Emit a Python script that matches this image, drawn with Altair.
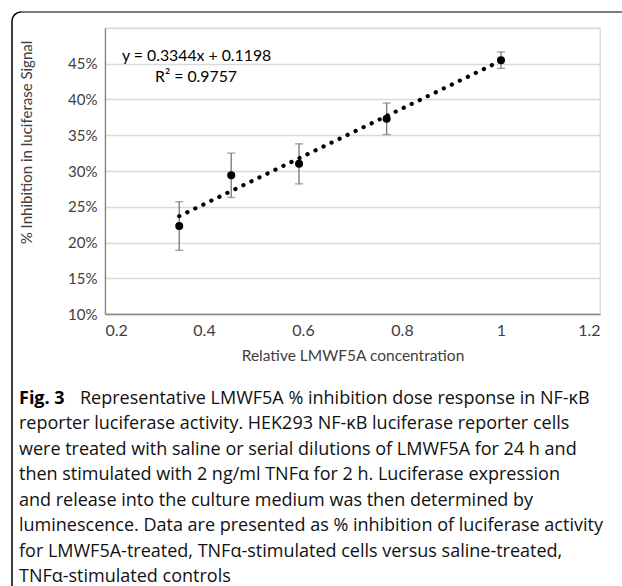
import altair as alt
import pandas as pd

# ---- data ----
conc = [0.35, 0.455, 0.592, 0.769, 1.0]
inhib = [0.223, 0.294, 0.310, 0.373, 0.455]
err = [0.034, 0.031, 0.028, 0.022, 0.0115]
slope = 0.3344
intercept = 0.1198
eq_lines = ["y = 0.3344x + 0.1198", "R² = 0.9757"]
x_ticks = [0.2, 0.4, 0.6, 0.8, 1.0, 1.2]
y_ticks = [0.10, 0.15, 0.20, 0.25, 0.30, 0.35, 0.40, 0.45, 0.50]
caption_bold = "Fig. 3"
caption_lines = [
    "Representative LMWF5A % inhibition dose response in NF-κB",
    "reporter luciferase activity. HEK293 NF-κB luciferase reporter cells",
    "were treated with saline or serial dilutions of LMWF5A for 24 h and",
    "then stimulated with 2 ng/ml TNFα for 2 h. Luciferase expression",
    "and release into the culture medium was then determined by",
    "luminescence. Data are presented as % inhibition of luciferase activity",
    "for LMWF5A-treated, TNFα-stimulated cells versus saline-treated,",
    "TNFα-stimulated controls",
]

df = pd.DataFrame({"x": conc, "y": inhib,
                   "lo": [v - e for v, e in zip(inhib, err)],
                   "hi": [v + e for v, e in zip(inhib, err)]})
trend = pd.DataFrame({"x": [min(conc), max(conc)]})
trend["y"] = slope * trend["x"] + intercept

W, H = 495, 286
LABEL_FONT = "Lato"
CAP_FONT = "Open Sans"
CAP_SIZE = 18

xs = alt.Scale(domain=[0.2, 1.2], nice=False)
ys = alt.Scale(domain=[0.1, 0.5], nice=False)
X_TITLE = "Relative LMWF5A concentration"
Y_TITLE = "% Inhibition in luciferase Signal"

x_axis = alt.Axis(
    values=x_ticks, format="~g", title=X_TITLE,
    grid=False, ticks=False, domainColor="#898989", domainWidth=1.3,
    labelFont=LABEL_FONT, labelFontSize=16, labelColor="#404040", labelPadding=8,
    titleFont=LABEL_FONT, titleFontSize=15.5, titleFontWeight="normal",
    titleColor="#404040", titlePadding=10)
y_axis = alt.Axis(
    values=y_ticks, format=".0%", title=Y_TITLE,
    labelExpr="datum.value > 0.49 ? '' : datum.label",
    grid=True, gridColor="#d9d9d9", gridWidth=1.3, ticks=False,
    domainColor="#898989", domainWidth=1.3,
    labelFont=LABEL_FONT, labelFontSize=15, labelColor="#404040", labelPadding=8,
    titleFont=LABEL_FONT, titleFontSize=15, titleFontWeight="normal",
    titleColor="#404040", titleX=-71, titleY=114)

X = alt.X("x:Q", scale=xs, axis=x_axis, title=X_TITLE)


def Yenc(field):
    return alt.Y(field, scale=ys, axis=y_axis, title=Y_TITLE)


bars = alt.Chart(df).mark_rule(color="#7f7f7f", strokeWidth=1.4).encode(
    x=X, y=Yenc("lo:Q"), y2="hi:Q")
caps_lo = alt.Chart(df).mark_tick(color="#7f7f7f", thickness=1.4, size=8, orient="horizontal").encode(
    x=X, y=Yenc("lo:Q"))
caps_hi = alt.Chart(df).mark_tick(color="#7f7f7f", thickness=1.4, size=8, orient="horizontal").encode(
    x=X, y=Yenc("hi:Q"))
line = alt.Chart(trend).mark_line(color="black", strokeWidth=4.2, strokeDash=[0.1, 8.8],
                                  strokeCap="round").encode(x=X, y=Yenc("y:Q"))
pts = alt.Chart(df).mark_circle(color="black", opacity=1, size=64).encode(x=X, y=Yenc("y:Q"))

eq = alt.Chart(pd.DataFrame({"t": [eq_lines[0]]})).mark_text(
    font=LABEL_FONT, fontSize=15.8, color="#000000", align="left", baseline="middle").encode(
    text="t:N", x=alt.value(17), y=alt.value(28))
r2 = alt.Chart(pd.DataFrame({"t": [eq_lines[1]]})).mark_text(
    font=LABEL_FONT, fontSize=15.8, color="#000000", align="left", baseline="middle").encode(
    text="t:N", x=alt.value(50), y=alt.value(49))

frame = alt.Chart(pd.DataFrame({"a": [0]})).mark_rect(
    fill=None, stroke="black", strokeWidth=1.5, cornerRadius=9).encode(
    x=alt.value(-93), x2=alt.value(700), y=alt.value(-16), y2=alt.value(700))
frame_top = alt.Chart(pd.DataFrame({"a": [0]})).mark_rule(color="#7a7a7a", strokeWidth=2).encode(
    x=alt.value(-84), x2=alt.value(700), y=alt.value(-16))

cap_bold = alt.Chart(pd.DataFrame({"t": [caption_bold]})).mark_text(
    font=CAP_FONT, fontSize=CAP_SIZE, fontWeight="bold", color="black", align="left",
    baseline="alphabetic").encode(text="t:N", x=alt.value(-86), y=alt.value(376))
cap_first = alt.Chart(pd.DataFrame({"t": [caption_lines[0]]})).mark_text(
    font=CAP_FONT, fontSize=CAP_SIZE, color="#111111", align="left", baseline="alphabetic").encode(
    text="t:N", x=alt.value(-25), y=alt.value(376))
cap_rest = alt.Chart(pd.DataFrame({"t": ["\n".join(caption_lines[1:])]})).mark_text(
    font=CAP_FONT, fontSize=CAP_SIZE, color="#111111", align="left", baseline="alphabetic",
    lineBreak="\n", lineHeight=25.5).encode(
    text="t:N", x=alt.value(-86), y=alt.value(401))

chart = alt.layer(frame, frame_top, bars, caps_lo, caps_hi, line, pts, eq, r2,
                  cap_bold, cap_first, cap_rest).properties(
    width=W, height=H,
    autosize=alt.AutoSizeParams(type="none"),
    padding={"left": 105, "top": 28, "right": 22, "bottom": 272},
    background="white",
).configure_view(stroke="#d9d9d9", strokeWidth=1.3)

chart.save("out.html", embed_options={"renderer": "svg", "actions": False})
